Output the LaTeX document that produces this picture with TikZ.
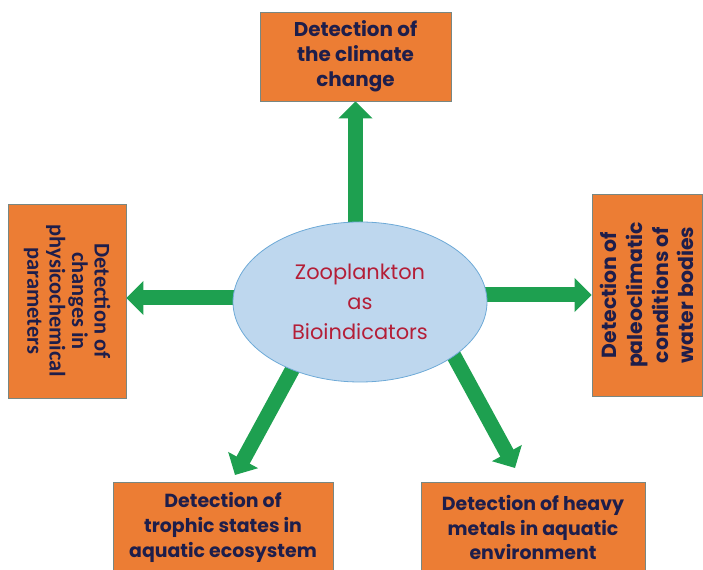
\documentclass[tikz,border=0pt]{standalone}
\usepackage{fontspec}
\setmainfont{Poppins}
\newfontfamily\calfont{Carlito}
\usetikzlibrary{arrows.meta,shapes.geometric,backgrounds}
\definecolor{boxorange}{RGB}{236,125,52}
\definecolor{boxedge}{RGB}{120,135,130}
\definecolor{navytext}{RGB}{30,30,75}
\definecolor{redtext}{RGB}{180,30,55}
\definecolor{ellfill}{RGB}{190,215,238}
\definecolor{elledge}{RGB}{110,170,215}
\definecolor{arrowgreen}{RGB}{30,160,80}
\tikzset{
  orangebox/.style={draw=boxedge, line width=0.8bp, fill=boxorange, text=navytext,
    align=center, inner sep=0pt, font=\fontsize{19}{25}\selectfont\bfseries},
  centreell/.style={ellipse, draw=elledge, line width=0.8bp, fill=ellfill, text=redtext,
    align=center, inner sep=0pt, minimum width=254bp, minimum height=160bp,
    font=\fontsize{21}{30}\selectfont},
  greenarrow/.style={draw=arrowgreen, line width=15bp,
    -{Triangle[width=33bp,length=17bp]}}
}
\begin{document}
\begin{tikzpicture}[x=1bp,y=1bp]
\useasboundingbox (0,0) rectangle (703,570);
\node[centreell] (ell) at (360,268) {Zooplankton\\as\\Bioindicators};
\node[orangebox, minimum width=191bp, minimum height=89bp,
  font=\fontsize{20}{25}\selectfont\bfseries] (top) at (355.5,513.5)
  {Detection of\\the climate\\change};
\node[orangebox, rotate=-90, minimum width=194bp, minimum height=118bp,
  font=\calfont\fontsize{22.5}{22.5}\selectfont\bfseries] (left) at (67,269)
  {Detection of\\changes in\\physicochemical\\parameters};
\node[orangebox, rotate=90, minimum width=202bp, minimum height=110bp,
  font=\fontsize{20.5}{26}\selectfont\bfseries] (right) at (647,275)
  {Detection of\\paleoclimatic\\conditions of\\water bodies};
\node[orangebox, minimum width=220bp, minimum height=91bp] (bl) at (223,42.5)
  {Detection of\\trophic states in\\aquatic ecosystem};
\node[orangebox, minimum width=224bp, minimum height=91bp] (br) at (533,42.5)
  {Detection of heavy\\metals in aquatic\\environment};
\coordinate (blS) at (297,209);
\coordinate (blE) at (235,95);
\coordinate (brS) at (448,225);
\coordinate (brE) at (515,102);
\begin{scope}[on background layer]
  \draw[greenarrow] (top.south |- ell.center) -- (top.south);
  \draw[greenarrow] ([yshift=4bp]ell.center) -- ([yshift=4bp]ell.center -| left.north);
  \draw[greenarrow] ([yshift=7bp]ell.center) -- ([yshift=7bp]ell.center -| right.north);
  \draw[greenarrow] (blS) -- (blE);
  \draw[greenarrow] (brS) -- (brE);
\end{scope}
\end{tikzpicture}
\end{document}
